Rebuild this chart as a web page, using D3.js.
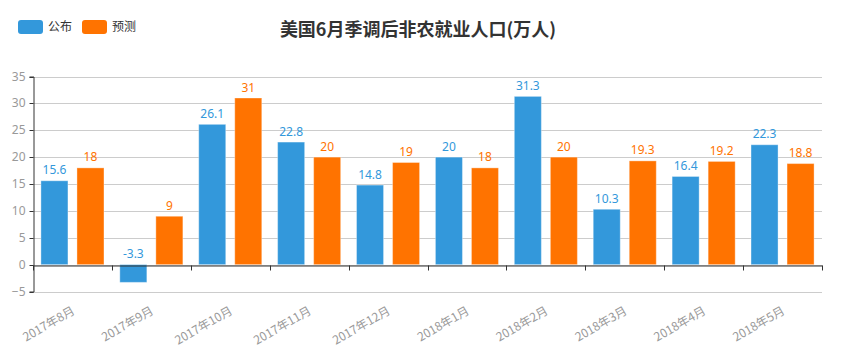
<!DOCTYPE html>
<html><head><meta charset="utf-8">
<script src="https://cdn.jsdelivr.net/npm/d3@7/dist/d3.min.js"></script>
<style>body{margin:0;background:#fff;} svg{display:block;font-family:"Noto Sans CJK SC","Noto Sans",sans-serif;}</style>
</head><body>
<svg id="c" width="845" height="355"></svg>
<script>
const categories = ["2017年8月","2017年9月","2017年10月","2017年11月","2017年12月","2018年1月","2018年2月","2018年3月","2018年4月","2018年5月"];
const published = [15.6, -3.3, 26.1, 22.8, 14.8, 20, 31.3, 10.3, 16.4, 22.3];
const forecast = [18, 9, 31, 20, 19, 18, 20, 19.3, 19.2, 18.8];
const seriesNames = ["公布","预测"];
const yTicks = [-5,0,5,10,15,20,25,30,35];
const colors = ["#3398db","#ff7300"];
const title = "美国6月季调后非农就业人口(万人)";

(function(){
const svg = d3.select("#c");
const L = 33, R = 822, T = 76.5, B = 291.5;
const x = d3.scaleBand().domain(categories).range([L, R]);
const y = d3.scaleLinear().domain([-5, 35]).range([B, T]);
const xs = d3.scaleBand().domain([0,1]).range([0, x.bandwidth()]).paddingInner(0.25).paddingOuter(0.22);

// grid
svg.append("g").selectAll("line").data(yTicks).join("line")
  .attr("x1", L).attr("x2", R)
  .attr("y1", d => Math.round(y(d))+0.5).attr("y2", d => Math.round(y(d))+0.5)
  .attr("stroke", "#ccc").attr("stroke-width", 1);

// y axis
const yAxis = svg.append("g").attr("transform", `translate(${L+0.5},0)`)
  .call(d3.axisLeft(y).tickValues(yTicks).tickSize(4).tickPadding(4));
yAxis.select(".domain").attr("stroke", "#333");
yAxis.selectAll(".tick line").attr("stroke", "#333");
yAxis.selectAll(".tick text").attr("fill", "#999").style("font-size", "12px").style("font-family", "'Noto Sans', sans-serif");
yAxis.selectAll(".tick").attr("transform", d => `translate(0,${Math.round(y(d))+0.5})`);

// bars
const series = [published, forecast];
series.forEach((vals, si) => {
  const g = svg.append("g");
  g.selectAll("rect").data(vals).join("rect")
    .attr("x", (d,i) => x(categories[i]) + xs(si))
    .attr("width", xs.bandwidth())
    .attr("y", d => Math.min(y(d), y(0)))
    .attr("height", d => Math.abs(y(d) - y(0)))
    .attr("fill", colors[si])
    .attr("stroke", "rgba(255,255,255,0.35)").attr("stroke-width", 1);
  g.selectAll("text").data(vals).join("text")
    .attr("x", (d,i) => x(categories[i]) + xs(si) + xs.bandwidth()/2)
    .attr("y", d => Math.min(y(d), y(0)) - 6.5)
    .attr("text-anchor", "middle")
    .attr("fill", colors[si])
    .style("font-size", "12px").style("font-family", "'Noto Sans', sans-serif")
    .text(d => d);
});

// x axis at zero
const xAxis = svg.append("g").attr("transform", `translate(0,${Math.round(y(0))+0.5})`)
  .call(d3.axisBottom(x).tickSize(0).tickFormat(""));
xAxis.select(".domain").attr("stroke", "#333");
xAxis.selectAll(".tick").remove();
const bounds = categories.map(c => x(c)).concat([R]);
xAxis.selectAll("line.tk").data(bounds).join("line").attr("class","tk")
  .attr("x1", d => Math.round(d)+0.5).attr("x2", d => Math.round(d)+0.5)
  .attr("y1", 0).attr("y2", 5).attr("stroke", "#333");

// x labels
svg.append("g").selectAll("text").data(categories).join("text")
  .attr("transform", d => `translate(${x(d)+x.bandwidth()/2+1},${B+18}) rotate(-30)`)
  .attr("text-anchor", "end").attr("dy", "0.35em")
  .attr("fill", "#999").style("font-size", "12px")
  .text(d => d);

// title
svg.append("text").attr("x", 418).attr("y", 36).attr("text-anchor", "middle")
  .attr("fill", "#333").style("font-size", "18px").style("font-weight", "bold")
  .text(title);

// legend
const lg = svg.append("g");
seriesNames.forEach((n, i) => {
  const lx = 18 + i*64;
  lg.append("rect").attr("x", lx).attr("y", 20).attr("width", 25).attr("height", 14).attr("rx", 3).attr("fill", colors[i]);
  lg.append("text").attr("x", lx + 30).attr("y", 27).attr("dy", "0.35em").attr("fill", "#333").style("font-size", "12px").text(n);
});
})();
</script>
</body></html>
